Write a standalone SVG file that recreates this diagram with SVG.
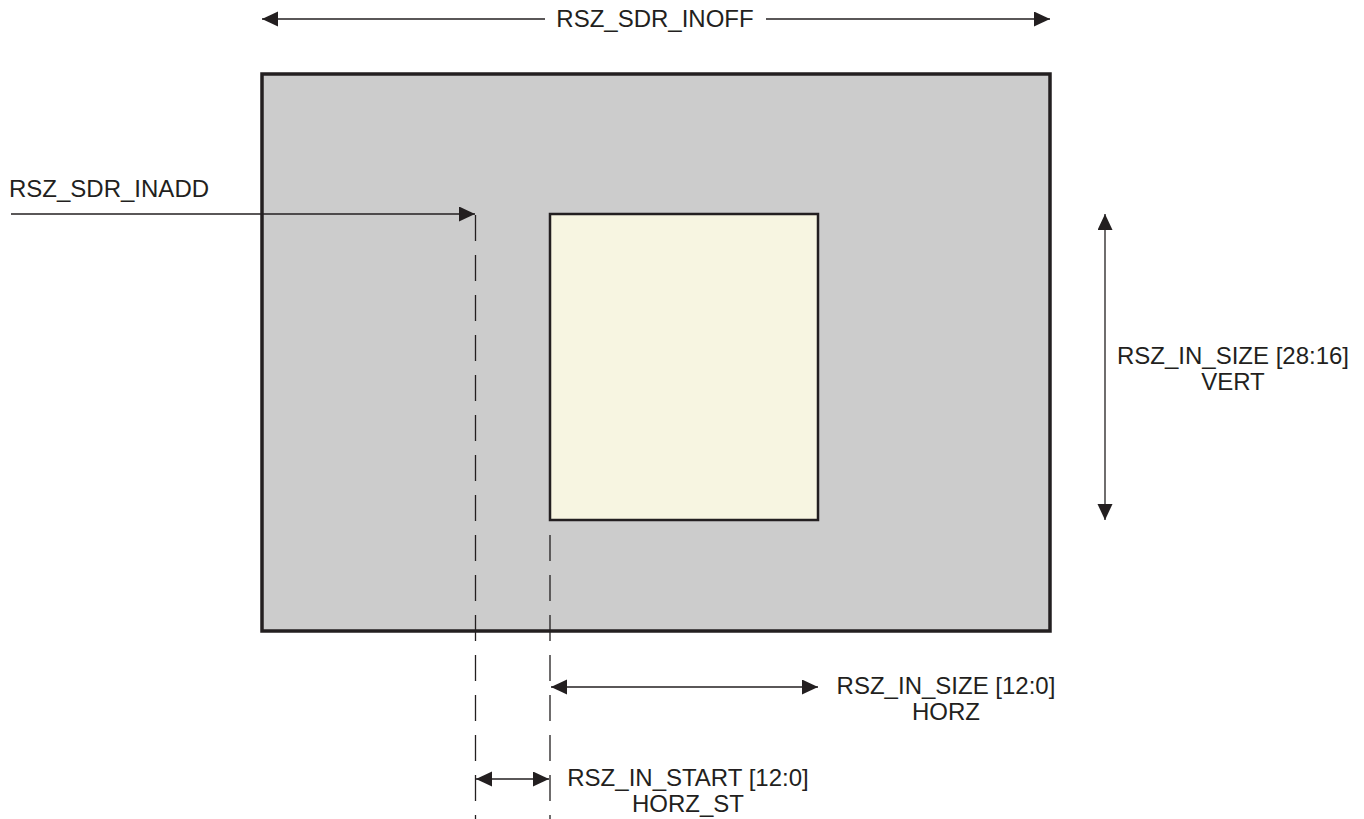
<svg xmlns="http://www.w3.org/2000/svg" width="1364" height="819" viewBox="0 0 1364 819">
<style>
.lbl{font-family:"Liberation Sans",Arial,sans-serif;font-size:24px;fill:#231f20}
.ln{stroke:#231f20;stroke-width:1.3;fill:none}
.dash{stroke:#231f20;stroke-width:1.3;fill:none;stroke-dasharray:26 14}
</style>
<defs>
<marker id="ah" markerUnits="userSpaceOnUse" markerWidth="18" markerHeight="16" refX="16" refY="7.5" orient="auto-start-reverse" viewBox="0 0 18 16">
<path d="M0,0 L16,7.5 L0,15 Z" fill="#231f20"/>
</marker>
</defs>
<rect width="1364" height="819" fill="#ffffff"/>
<g id="outer-frame">
<rect x="262" y="74" width="788" height="557" fill="#cccccc" stroke="#231f20" stroke-width="3.5"/>
</g>
<g id="inner-window">
<rect x="550" y="214" width="268" height="306" fill="#f7f5e1" stroke="#231f20" stroke-width="2.5"/>
</g>
<g id="connectors">
<line class="ln" x1="262" y1="19" x2="545" y2="19" marker-start="url(#ah)"/>
<line class="ln" x1="766" y1="19" x2="1050" y2="19" marker-end="url(#ah)"/>
<line class="ln" x1="11" y1="214" x2="475" y2="214" marker-end="url(#ah)"/>
<line class="dash" x1="475.5" y1="215" x2="475.5" y2="819"/>
<line class="dash" x1="550" y1="535" x2="550" y2="819"/>
<line class="ln" x1="1105" y1="214" x2="1105" y2="520" marker-start="url(#ah)" marker-end="url(#ah)"/>
<line class="ln" x1="551" y1="687" x2="818" y2="687" marker-start="url(#ah)" marker-end="url(#ah)"/>
<line class="ln" x1="476" y1="779" x2="549" y2="779" marker-start="url(#ah)" marker-end="url(#ah)"/>
</g>
<g id="label-inoff"><text class="lbl" x="655" y="27" text-anchor="middle">RSZ_SDR_INOFF</text></g>
<g id="label-inadd"><text class="lbl" x="9" y="197">RSZ_SDR_INADD</text></g>
<g id="label-vert">
<text class="lbl" x="1233" y="364" text-anchor="middle">RSZ_IN_SIZE [28:16]</text>
<text class="lbl" x="1233" y="390" text-anchor="middle">VERT</text>
</g>
<g id="label-horz">
<text class="lbl" x="946" y="694" text-anchor="middle">RSZ_IN_SIZE [12:0]</text>
<text class="lbl" x="946" y="720" text-anchor="middle">HORZ</text>
</g>
<g id="label-start">
<text class="lbl" x="688" y="786" text-anchor="middle">RSZ_IN_START [12:0]</text>
<text class="lbl" x="688" y="812" text-anchor="middle">HORZ_ST</text>
</g>
</svg>
